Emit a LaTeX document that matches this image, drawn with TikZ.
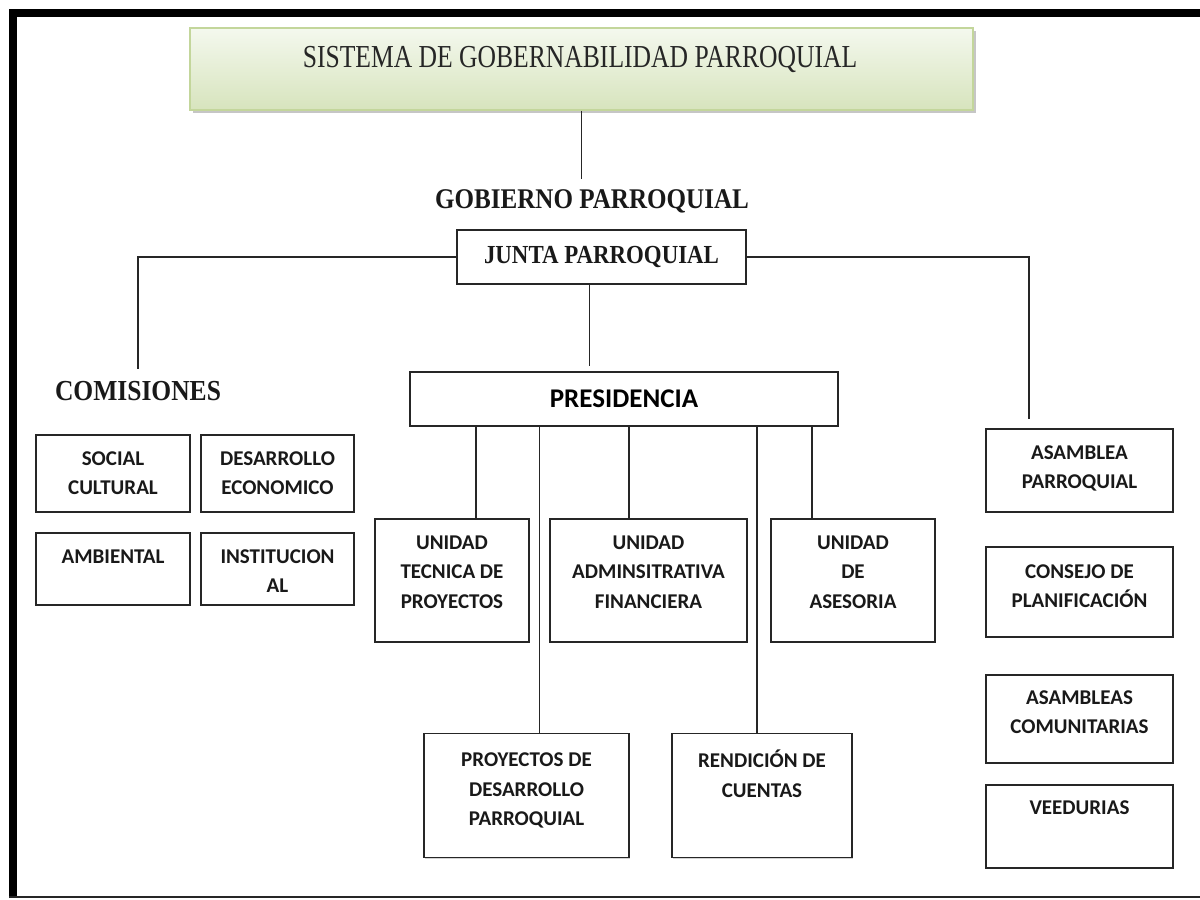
\documentclass[tikz,border=0pt]{standalone}
\usepackage{fontspec}
\usetikzlibrary{shadows}
\newfontfamily\carlito{Carlito}
\newfontfamily\titulofuente[FakeStretch=0.8]{Liberation Serif}
\newfontfamily\cabecera[FakeStretch=0.88]{Liberation Serif}
\definecolor{verdeclaro}{HTML}{F4F8EE}
\definecolor{verdemedio}{HTML}{D7E4BD}
\definecolor{verdeborde}{HTML}{C3D69B}
\definecolor{linea}{HTML}{262626}

\begin{document}
\begin{tikzpicture}[x=1pt, y=-1pt,
  caja/.style={draw=linea, line width=1.5pt, fill=white, inner sep=0pt,
    drop shadow={shadow xshift=1.2pt, shadow yshift=-1.2pt, opacity=0.35}},
  texto/.style={font=\carlito\bfseries\fontsize{21}{29.5}\selectfont,
    align=center, anchor=north, inner sep=0pt, text=black!90},
  cabeza/.style={font=\cabecera\bfseries\fontsize{#1}{#1}\selectfont,
    inner sep=0pt, text=black!90},
  conector/.style={draw=linea, line width=1.7pt}]
  \useasboundingbox (0,0) rectangle (1200,900);
  % marco
  \draw[line width=8pt] (13,898) -- (13,13) -- (1204,13);
  \draw[line width=1.6pt, draw=linea] (9,897) -- (1200,897);
  % titulo
  \node[draw=verdeborde, line width=1.5pt, top color=verdeclaro, bottom color=verdemedio,
    minimum width=783, minimum height=82, inner sep=0pt,
    drop shadow={shadow xshift=2.5pt, shadow yshift=-3pt, opacity=0.45}] (titulo) at (581.5,69) {};
  \node[font=\titulofuente\fontsize{32}{36}\selectfont, inner sep=0pt, text=black!85, anchor=base]
    (tituloT) at (580,67) {SISTEMA DE GOBERNABILIDAD PARROQUIAL};
  % gobierno y junta
  \node[cabeza=28.5, anchor=base] (gobierno) at (592,208) {GOBIERNO PARROQUIAL};
  \draw[conector, shorten >=10pt] (titulo.south) -- (titulo.south |- gobierno.north);
  \node[caja, cabeza=26, minimum width=289, minimum height=54] (junta) at (601.5,257) {JUNTA PARROQUIAL};
  % comisiones
  \node[cabeza=29, anchor=base] (comisiones) at (138,400) {COMISIONES};
  \node[caja, minimum width=154, minimum height=77] (social) at (113,473.5) {};
  \node[caja, minimum width=153, minimum height=77] (desarrollo) at (277.5,473.5) {};
  \node[caja, minimum width=154, minimum height=72] (ambiental) at (113,569) {};
  \node[caja, minimum width=153, minimum height=72] (institucional) at (277.5,569) {};
  \node[texto] (socialT) at ([yshift=-17pt]social.north) {SOCIAL\\CULTURAL};
  \node[texto] (desarrolloT) at ([yshift=-17pt]desarrollo.north) {DESARROLLO\\ECONOMICO};
  \node[texto] (ambientalT) at ([yshift=-17pt]ambiental.north) {AMBIENTAL};
  \node[texto] (institucionalT) at ([yshift=-17pt]institucional.north) {INSTITUCION\\AL};
  % presidencia y unidades
  \node[caja, minimum width=428, minimum height=54,
    font=\carlito\bfseries\fontsize{27}{30}\selectfont] (presidencia) at (624,399) {PRESIDENCIA};
  \node[caja, minimum width=154, minimum height=123] (tecnica) at (452,580.5) {};
  \node[caja, minimum width=197, minimum height=123] (admin) at (648.5,580.5) {};
  \node[caja, minimum width=164, minimum height=123] (asesoria) at (853,580.5) {};
  \node[texto] (tecnicaT) at ([yshift=-17pt]tecnica.north) {UNIDAD\\TECNICA DE\\PROYECTOS};
  \node[texto] (adminT) at ([yshift=-17pt]admin.north) {UNIDAD\\ADMINSITRATIVA\\FINANCIERA};
  \node[texto] (asesoriaT) at ([yshift=-17pt]asesoria.north) {UNIDAD\\DE\\ASESORIA};
  \node[caja, minimum width=205, minimum height=124] (proyectos) at (526.5,795.5) {};
  \node[caja, minimum width=180, minimum height=124] (rendicion) at (762,795.5) {};
  \node[texto] (proyectosT) at ([yshift=-20pt]proyectos.north) {PROYECTOS DE\\DESARROLLO\\PARROQUIAL};
  \node[texto] (rendicionT) at ([yshift=-17pt]rendicion.north) {RENDICIÓN DE\\CUENTAS};
  % participacion
  \node[caja, minimum width=187, minimum height=83] (asamblea) at (1079.5,470.5) {};
  \node[caja, minimum width=187, minimum height=90] (consejo) at (1079.5,592) {};
  \node[caja, minimum width=187, minimum height=88] (asambleas) at (1079.5,719) {};
  \node[caja, minimum width=187, minimum height=83] (veedurias) at (1079.5,826.5) {};
  \node[texto] (asambleaT) at ([yshift=-17pt]asamblea.north) {ASAMBLEA\\PARROQUIAL};
  \node[texto] (consejoT) at ([yshift=-18pt]consejo.north) {CONSEJO DE\\PLANIFICACIÓN};
  \node[texto] (asambleasT) at ([yshift=-16pt]asambleas.north) {ASAMBLEAS\\COMUNITARIAS};
  \node[texto] (veeduriasT) at ([yshift=-16pt]veedurias.north) {VEEDURIAS};
  % conectores
  \draw[conector, shorten >=12pt] (junta.west) -| (comisiones.north);
  \draw[conector, shorten >=9pt] (junta.east) -| ([xshift=-50.5pt]asamblea.north);
  \draw[conector, shorten >=5pt] ([xshift=-12pt]junta.south) -- ([xshift=-12pt]junta.south |- presidencia.north);
  \draw[conector] ([xshift=24pt]tecnica.north) -- ([xshift=24pt]tecnica.north |- presidencia.south);
  \draw[conector] ([xshift=-19.5pt]admin.north) -- ([xshift=-19.5pt]admin.north |- presidencia.south);
  \draw[conector] ([xshift=-41pt]asesoria.north) -- ([xshift=-41pt]asesoria.north |- presidencia.south);
  \draw[conector] ([xshift=13pt]proyectos.north) -- ([xshift=13pt]proyectos.north |- presidencia.south);
  \draw[conector] ([xshift=-5pt]rendicion.north) -- ([xshift=-5pt]rendicion.north |- presidencia.south);
\end{tikzpicture}
\end{document}
